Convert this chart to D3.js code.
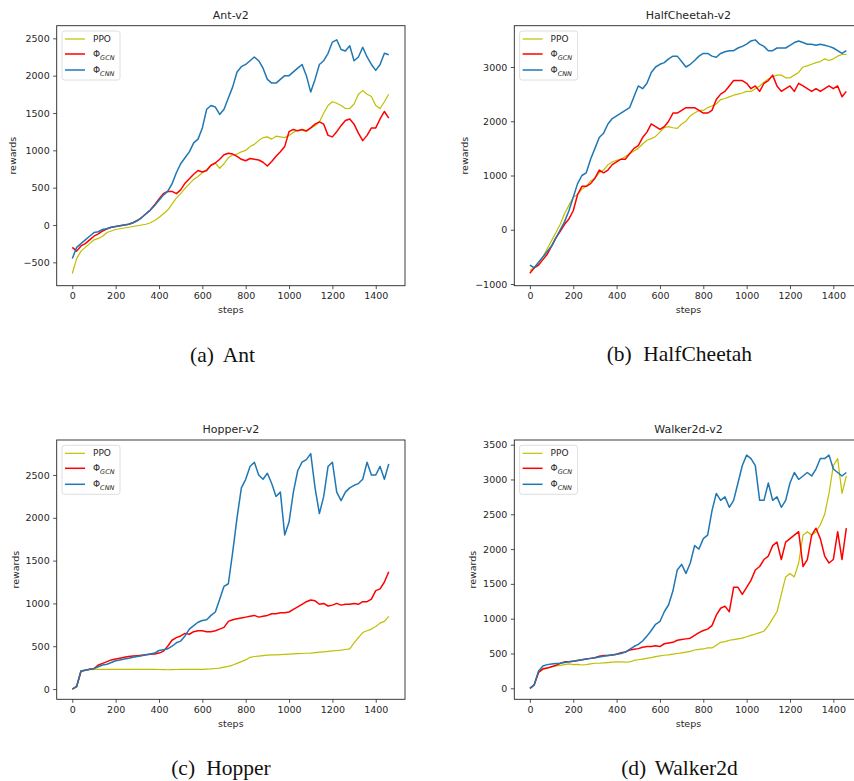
<!DOCTYPE html>
<meta charset="utf-8">
<head>
<style>
  body { margin: 0; background: #fff; }
  svg text { font-family: "DejaVu Sans", sans-serif; fill: #262626; }
  .tick text { font-size: 9.5px; }
  .tick line { stroke: #262626; stroke-width: 0.8; }
  .caption { font-family: "Liberation Serif", serif; font-size: 21.5px; fill: #111; }
</style>
</head>
<body>
<div id="chart"></div>
<script src="https://d3js.org/d3.v7.min.js"></script>
<script>

// x positions of all series (every 20 steps)
var steps = d3.range(0, 1461, 20);
var xTicks = [0, 200, 400, 600, 800, 1000, 1200, 1400];

// Ant-v2
var antPPO = [
  -650, -450, -350, -300, -250, -200, -180, -150, -100, -80,
  -60, -50, -40, -30, -20, -10, 0, 10, 30, 60,
  100, 150, 200, 280, 360, 420, 490, 550, 610, 650,
  700, 740, 800, 830, 760, 820, 900, 940, 950, 980,
  1000, 1050, 1080, 1130, 1170, 1180, 1150, 1190, 1180, 1170,
  1200, 1240, 1270, 1270, 1250, 1300, 1330, 1380, 1500, 1600,
  1650, 1630, 1600, 1560, 1560, 1620, 1750, 1800, 1750, 1720,
  1600, 1560, 1650, 1750];
var antGCN = [
  -300, -350, -280, -250, -200, -150, -120, -80, -50, -30,
  -20, -10, 0, 10, 30, 60, 100, 150, 200, 270,
  350, 420, 450, 450, 420, 470, 560, 620, 680, 730,
  710, 730, 800, 830, 880, 940, 960, 950, 920, 880,
  860, 890, 880, 870, 840, 790, 850, 920, 980, 1050,
  1250, 1280, 1260, 1280, 1260, 1300, 1350, 1380, 1350, 1200,
  1180, 1250, 1330, 1400, 1420, 1350, 1230, 1130, 1200, 1300,
  1300, 1420, 1520, 1430];
var antCNN = [
  -450, -300, -250, -200, -150, -100, -90, -60, -50, -30,
  -20, -10, 0, 10, 30, 60, 100, 150, 200, 260,
  330, 400, 450, 550, 700, 820, 900, 980, 1100, 1150,
  1300, 1550, 1600, 1580, 1480, 1550, 1700, 1850, 2050, 2120,
  2150, 2200, 2250, 2200, 2100, 1950, 1900, 1900, 1950, 2000,
  2000, 2050, 2100, 2150, 2000, 1780, 1950, 2150, 2200, 2300,
  2450, 2480, 2350, 2330, 2400, 2200, 2250, 2380, 2250, 2150,
  2070, 2150, 2300, 2280];
var antTicks = [-500, 0, 500, 1000, 1500, 2000, 2500];

// HalfCheetah-v2
var hcPPO = [
  -750, -700, -600, -500, -350, -200, -50, 100, 300, 450,
  600, 650, 750, 800, 900, 950, 1050, 1100, 1200, 1250,
  1280, 1300, 1350, 1400, 1450, 1500, 1580, 1650, 1680, 1720,
  1800, 1880, 1900, 1880, 1870, 1950, 2000, 2100, 2150, 2200,
  2200, 2250, 2280, 2320, 2400, 2420, 2450, 2480, 2500, 2520,
  2550, 2550, 2600, 2650, 2720, 2780, 2820, 2850, 2850, 2800,
  2800, 2850, 2900, 3000, 3020, 3050, 3080, 3100, 3150, 3120,
  3150, 3200, 3230, 3230];
var hcGCN = [
  -800, -700, -650, -550, -450, -300, -150, -30, 100, 200,
  350, 650, 800, 800, 850, 950, 1100, 1050, 1100, 1200,
  1250, 1300, 1300, 1400, 1500, 1550, 1700, 1800, 1950, 1900,
  1850, 1900, 2000, 2150, 2150, 2200, 2250, 2250, 2250, 2200,
  2150, 2150, 2200, 2400, 2500, 2550, 2650, 2750, 2750, 2750,
  2700, 2600, 2650, 2550, 2700, 2750, 2850, 2650, 2550, 2600,
  2650, 2550, 2700, 2650, 2600, 2550, 2600, 2550, 2600, 2650,
  2600, 2650, 2450, 2550];
var hcCNN = [
  -650, -700, -600, -500, -400, -300, -150, 0, 150, 350,
  600, 850, 1000, 1050, 1300, 1500, 1700, 1780, 1950, 2050,
  2100, 2150, 2200, 2250, 2450, 2650, 2600, 2700, 2900, 3000,
  3050, 3080, 3150, 3200, 3200, 3100, 3000, 3050, 3120, 3200,
  3250, 3250, 3200, 3180, 3250, 3280, 3300, 3300, 3350, 3380,
  3420, 3480, 3500, 3420, 3380, 3300, 3300, 3350, 3350, 3350,
  3400, 3450, 3480, 3450, 3420, 3420, 3400, 3420, 3400, 3380,
  3350, 3300, 3250, 3300];
var hcTicks = [-1000, 0, 1000, 2000, 3000];

// Hopper-v2
var hopPPO = [
  0, 20, 200, 220, 225, 228, 230, 230, 230, 230,
  230, 230, 230, 230, 230, 230, 230, 230, 230, 230,
  228, 226, 225, 226, 228, 230, 230, 230, 230, 230,
  230, 232, 235, 240, 245, 255, 265, 280, 300, 320,
  340, 370, 380, 385, 390, 395, 398, 400, 402, 405,
  408, 410, 413, 415, 418, 420, 425, 430, 435, 440,
  445, 450, 455, 462, 470, 540, 600, 660, 680, 700,
  730, 770, 790, 850];
var hopGCN = [
  0, 30, 210, 220, 230, 240, 280, 300, 320, 340,
  350, 360, 370, 380, 385, 390, 395, 400, 405, 410,
  420, 440, 500, 570, 600, 620, 650, 640, 670, 680,
  680, 670, 670, 680, 700, 720, 790, 810, 820, 830,
  840, 850, 860, 840, 850, 860, 880, 880, 890, 890,
  900, 930, 960, 990, 1020, 1040, 1030, 990, 1000, 970,
  980, 1000, 980, 990, 990, 1000, 990, 1020, 1020, 1050,
  1150, 1170, 1250, 1370];
var hopCNN = [
  0, 30, 210, 220, 230, 240, 260, 280, 290, 310,
  330, 340, 350, 360, 370, 380, 390, 400, 410, 420,
  450, 460, 470, 500, 540, 560, 620, 700, 740, 780,
  800, 810, 860, 900, 1050, 1200, 1230, 1600, 2000, 2350,
  2450, 2600, 2650, 2500, 2450, 2520, 2400, 2250, 2300, 1800,
  1950, 2300, 2550, 2650, 2680, 2750, 2350, 2050, 2250, 2600,
  2650, 2300, 2200, 2300, 2350, 2380, 2400, 2450, 2650, 2500,
  2500, 2600, 2450, 2630];
var hopTicks = [0, 500, 1000, 1500, 2000, 2500];

// Walker2d-v2
var wkPPO = [
  0, 50, 230, 270, 290, 310, 320, 330, 340, 350,
  340, 345, 335, 340, 350, 360, 360, 365, 370, 375,
  380, 380, 375, 380, 400, 410, 420, 430, 440, 455,
  465, 475, 480, 490, 500, 510, 520, 530, 550, 560,
  565, 580, 580, 620, 660, 670, 690, 700, 710, 720,
  740, 760, 780, 800, 820, 900, 1000, 1100, 1350, 1600,
  1650, 1600, 1800, 2200, 2250, 2200, 2250, 2350, 2500, 2800,
  3200, 3300, 2800, 3050];
var wkGCN = [
  0, 50, 230, 280, 290, 310, 330, 360, 380, 380,
  390, 400, 410, 420, 430, 440, 460, 470, 470, 480,
  490, 510, 520, 550, 560, 570, 590, 600, 600, 610,
  600, 640, 650, 660, 690, 700, 710, 720, 760, 800,
  830, 850, 900, 1050, 1150, 1180, 1100, 1450, 1450, 1350,
  1450, 1550, 1700, 1750, 1850, 1900, 2050, 2100, 1850, 2100,
  2150, 2200, 2250, 1750, 1850, 2200, 2300, 2150, 1900, 1800,
  1850, 2250, 1850, 2300];
var wkCNN = [
  0, 50, 250, 320, 340, 350, 355, 360, 370, 380,
  390, 400, 410, 420, 430, 440, 450, 460, 470, 480,
  490, 500, 520, 560, 600, 630, 680, 750, 830, 920,
  960, 1100, 1200, 1400, 1700, 1780, 1650, 1800, 2050, 2000,
  2150, 2200, 2550, 2800, 2700, 2750, 2600, 2700, 2950, 3200,
  3350, 3300, 3200, 2700, 2700, 2950, 2700, 2750, 2600, 2700,
  2950, 3100, 3000, 3050, 3100, 3050, 3150, 3300, 3300, 3350,
  3150, 3100, 3050, 3100];
var wkTicks = [0, 500, 1000, 1500, 2000, 2500, 3000, 3500];

var titles = ["Ant-v2", "HalfCheetah-v2", "Hopper-v2", "Walker2d-v2"];
var tags = ["(a)", "(b)", "(c)", "(d)"];
var names = ["Ant", "HalfCheetah", "Hopper", "Walker2d"];
var colors = ["#bfbf00", "#ff0000", "#1f77b4"];

// layout of the four panels
var panels = [
  {L: 56.7, T: 25.7, H: 260, ylab: 43.7, dom: [-813, 2669], ticks: antTicks, series: [antPPO, antGCN, antCNN], tagX: 190, nameX: 222.7, capY: 361.5},
  {L: 514.3, T: 25.7, H: 260, ylab: 49.3, dom: [-1031, 3761], ticks: hcTicks, series: [hcPPO, hcGCN, hcCNN], tagX: 606.7, nameX: 643.3, capY: 361},
  {L: 56.7, T: 440, H: 259.3, ylab: 41, dom: [-120, 2909], ticks: hopTicks, series: [hopPPO, hopGCN, hopCNN], tagX: 171.2, nameX: 206.3, capY: 775},
  {L: 514.3, T: 440, H: 259.3, ylab: 41.3, dom: [-158, 3567], ticks: wkTicks, series: [wkPPO, wkGCN, wkCNN], tagX: 621.2, nameX: 654.7, capY: 775}
];
var W = 348.3;

// matplotlib style numbers: no thousands separator, real minus sign
var fmt = function(d) { return d < 0 ? "\u2212" + Math.abs(d) : String(d); };

var svg = d3.select("#chart").append("svg")
    .attr("width", 854)
    .attr("height", 781);

panels.forEach(function(p, i) {
  var g = svg.append("g").attr("transform", "translate(" + p.L + "," + p.T + ")");

  var x = d3.scaleLinear().domain([-72, 1535]).range([0, W]);
  var y = d3.scaleLinear().domain(p.dom).range([p.H, 0]);

  g.append("g")
      .attr("transform", "translate(0," + p.H + ")")
      .call(d3.axisBottom(x).tickValues(xTicks).tickFormat(fmt).tickSize(3.5).tickPadding(3))
      .call(function(a) { a.select(".domain").remove(); });

  g.append("g")
      .call(d3.axisLeft(y).tickValues(p.ticks).tickFormat(fmt).tickSize(3.5).tickPadding(3.5))
      .call(function(a) { a.select(".domain").remove(); });

  var line = d3.line()
      .x(function(d, j) { return x(steps[j]); })
      .y(function(d) { return y(d); });

  p.series.forEach(function(s, k) {
    g.append("path")
        .datum(s)
        .attr("fill", "none")
        .attr("stroke", colors[k])
        .attr("stroke-width", k === 0 ? 1.2 : 1.5)
        .attr("stroke-linejoin", "round")
        .attr("d", line);
  });

  // spines
  g.append("rect")
      .attr("width", W)
      .attr("height", p.H)
      .attr("fill", "none")
      .attr("stroke", "#262626")
      .attr("stroke-width", 0.9);

  g.append("text")
      .attr("x", W / 2)
      .attr("y", -6.7)
      .attr("text-anchor", "middle")
      .style("font-size", "11px")
      .text(titles[i]);

  g.append("text")
      .attr("x", W / 2)
      .attr("y", p.H + 27.5)
      .attr("text-anchor", "middle")
      .style("font-size", "9.5px")
      .text("steps");

  g.append("text")
      .attr("transform", "translate(" + (-p.ylab) + "," + (p.H / 2) + ") rotate(-90)")
      .attr("dy", "0.35em")
      .attr("text-anchor", "middle")
      .style("font-size", "9.5px")
      .text("rewards");

  // legend
  var lg = g.append("g").attr("transform", "translate(5.3,5.3)");
  lg.append("rect")
      .attr("width", 58)
      .attr("height", 49)
      .attr("rx", 2.5)
      .attr("fill", "#fff")
      .attr("fill-opacity", 0.8)
      .attr("stroke", "#d5d5d5")
      .attr("stroke-width", 0.8);
  var rows = [8, 23, 39];
  var subs = [null, "GCN", "CNN"];
  rows.forEach(function(ry, k) {
    lg.append("line")
        .attr("x1", 3).attr("x2", 23)
        .attr("y1", ry).attr("y2", ry)
        .attr("stroke", colors[k])
        .attr("stroke-width", k === 0 ? 1.2 : 1.5);
    var t = lg.append("text")
        .attr("x", 31)
        .attr("y", ry)
        .attr("dy", "0.35em")
        .style("font-size", "9px");
    if (k === 0) {
      t.text("PPO");
    } else {
      t.append("tspan").text("\u03A6");
      t.append("tspan")
          .attr("dy", "2.5")
          .style("font-size", "6.5px")
          .style("font-style", "italic")
          .text(subs[k]);
    }
  });

  // caption below the panel
  svg.append("text")
      .attr("class", "caption")
      .attr("x", p.tagX)
      .attr("y", p.capY)
      .text(tags[i]);
  svg.append("text")
      .attr("class", "caption")
      .attr("x", p.nameX)
      .attr("y", p.capY)
      .text(names[i]);
});

</script>
</body>
